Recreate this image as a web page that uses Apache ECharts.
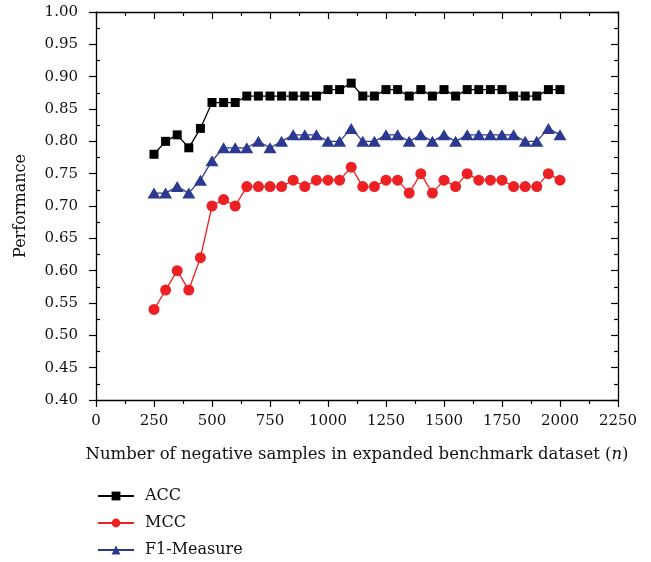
<!DOCTYPE html>
<html>
<head>
<meta charset="utf-8">
<script src="https://cdn.jsdelivr.net/npm/echarts@6/dist/echarts.min.js"></script>
<style>html,body{margin:0;padding:0;background:#fff;}#c{width:651px;height:562px;}</style>
</head>
<body>
<div id="c"></div>
<script>
const nValues = [250,300,350,400,450,500,550,600,650,700,750,800,850,900,950,1000,1050,1100,1150,1200,1250,1300,1350,1400,1450,1500,1550,1600,1650,1700,1750,1800,1850,1900,1950,2000];
const accValues = [0.78,0.80,0.81,0.79,0.82,0.86,0.86,0.86,0.87,0.87,0.87,0.87,0.87,0.87,0.87,0.88,0.88,0.89,0.87,0.87,0.88,0.88,0.87,0.88,0.87,0.88,0.87,0.88,0.88,0.88,0.88,0.87,0.87,0.87,0.88,0.88];
const mccValues = [0.54,0.57,0.60,0.57,0.62,0.70,0.71,0.70,0.73,0.73,0.73,0.73,0.74,0.73,0.74,0.74,0.74,0.76,0.73,0.73,0.74,0.74,0.72,0.75,0.72,0.74,0.73,0.75,0.74,0.74,0.74,0.73,0.73,0.73,0.75,0.74];
const f1Values = [0.72,0.72,0.73,0.72,0.74,0.77,0.79,0.79,0.79,0.80,0.79,0.80,0.81,0.81,0.81,0.80,0.80,0.82,0.80,0.80,0.81,0.81,0.80,0.81,0.80,0.81,0.80,0.81,0.81,0.81,0.81,0.81,0.80,0.80,0.82,0.81];
const seriesNames = ['ACC','MCC','F1-Measure'];
const xTicks = {min:0, max:2250, interval:250};
const yTicks = {min:0.40, max:1.00, interval:0.05};

const font = 'DejaVu Serif';
const pair = (vals) => nValues.map((n,i)=>[n, vals[i]]);
const gridRect = {left:96, right:33, top:12, bottom:162};

const chart = echarts.init(document.getElementById('c'));
chart.setOption({
  backgroundColor:'#fff',
  animation:false,
  textStyle:{fontFamily:font},
  grid:[Object.assign({}, gridRect), Object.assign({}, gridRect)],
  legend:{
    orient:'vertical', left:97, top:487, padding:0,
    itemWidth:36, itemHeight:11, itemGap:9,
    textStyle:{fontFamily:font, fontSize:16, lineHeight:18, color:'#111', padding:[0,0,0,6]},
    data:seriesNames
  },
  xAxis:[
    {type:'value', gridIndex:0, position:'bottom', min:xTicks.min, max:xTicks.max, interval:xTicks.interval,
     axisLine:{onZero:false, lineStyle:{color:'#000', width:1.3}},
     axisTick:{show:true, inside:false, length:7, lineStyle:{color:'#000', width:1.2}},
     minorTick:{show:true, splitNumber:2, length:4, lineStyle:{color:'#000', width:1.2}},
     splitLine:{show:false},
     axisLabel:{fontFamily:font, fontSize:15, color:'#111', margin:14, formatter:(v)=>String(v)},
     name:'Number of negative samples in expanded benchmark dataset ({i|n})',
     nameLocation:'middle', nameGap:46,
     nameTextStyle:{fontFamily:font, fontSize:16.5, color:'#111', rich:{i:{fontFamily:font, fontSize:16.5, fontStyle:'italic', color:'#111'}}}
    },
    {type:'value', gridIndex:0, position:'top', min:xTicks.min, max:xTicks.max, interval:xTicks.interval,
     axisLine:{onZero:false, lineStyle:{color:'#000', width:1.3}},
     axisTick:{show:true, inside:true, length:7, lineStyle:{color:'#000', width:1.2}},
     minorTick:{show:true, splitNumber:2, length:4, lineStyle:{color:'#000', width:1.2}},
     splitLine:{show:false}, axisLabel:{show:false}
    },
    {type:'value', gridIndex:1, min:xTicks.min, max:xTicks.max, show:false}
  ],
  yAxis:[
    {type:'value', gridIndex:0, position:'left', min:yTicks.min, max:yTicks.max, interval:yTicks.interval,
     axisLine:{show:true, onZero:false, lineStyle:{color:'#000', width:1.3}},
     axisTick:{show:true, inside:false, length:7, lineStyle:{color:'#000', width:1.2}},
     splitLine:{show:false},
     axisLabel:{fontFamily:font, fontSize:15, color:'#111', margin:18, formatter:(v)=>v.toFixed(2)},
     name:'Performance', nameLocation:'middle', nameGap:67, nameRotate:90,
     nameTextStyle:{fontFamily:font, fontSize:16, color:'#111'}
    },
    {type:'value', gridIndex:0, position:'right', min:yTicks.min, max:yTicks.max, interval:yTicks.interval,
     axisLine:{show:true, onZero:false, lineStyle:{color:'#000', width:1.3}},
     axisTick:{show:true, inside:true, length:7, lineStyle:{color:'#000', width:1.2}},
     minorTick:{show:true, splitNumber:2, length:4, lineStyle:{color:'#000', width:1.2}},
     splitLine:{show:false}, axisLabel:{show:false}
    },
    {type:'value', gridIndex:1, position:'left', min:yTicks.min, max:yTicks.max, interval:yTicks.interval,
     axisLine:{show:false},
     axisTick:{show:false, inside:true},
     minorTick:{show:true, splitNumber:2, length:4, lineStyle:{color:'#000', width:1.2}},
     splitLine:{show:false}, axisLabel:{show:false}
    }
  ],
  series:[
    {name:seriesNames[0], type:'line', xAxisIndex:0, yAxisIndex:0, data:pair(accValues),
     symbol:'rect', symbolSize:9, color:'#000000',
     lineStyle:{width:1.3, color:'#000000'}, itemStyle:{color:'#000000'}, z:4},
    {name:seriesNames[1], type:'line', xAxisIndex:0, yAxisIndex:0, data:pair(mccValues),
     symbol:'circle', symbolSize:11, color:'#ed2024',
     lineStyle:{width:1.3, color:'#ed2024'}, itemStyle:{color:'#ed2024'}, z:3},
    {name:seriesNames[2], type:'line', xAxisIndex:0, yAxisIndex:0, data:pair(f1Values),
     symbol:'triangle', symbolSize:[13,11], color:'#2b3990',
     lineStyle:{width:1.3, color:'#2b3990'}, itemStyle:{color:'#2b3990'}, z:3}
  ]
});
</script>
</body>
</html>
